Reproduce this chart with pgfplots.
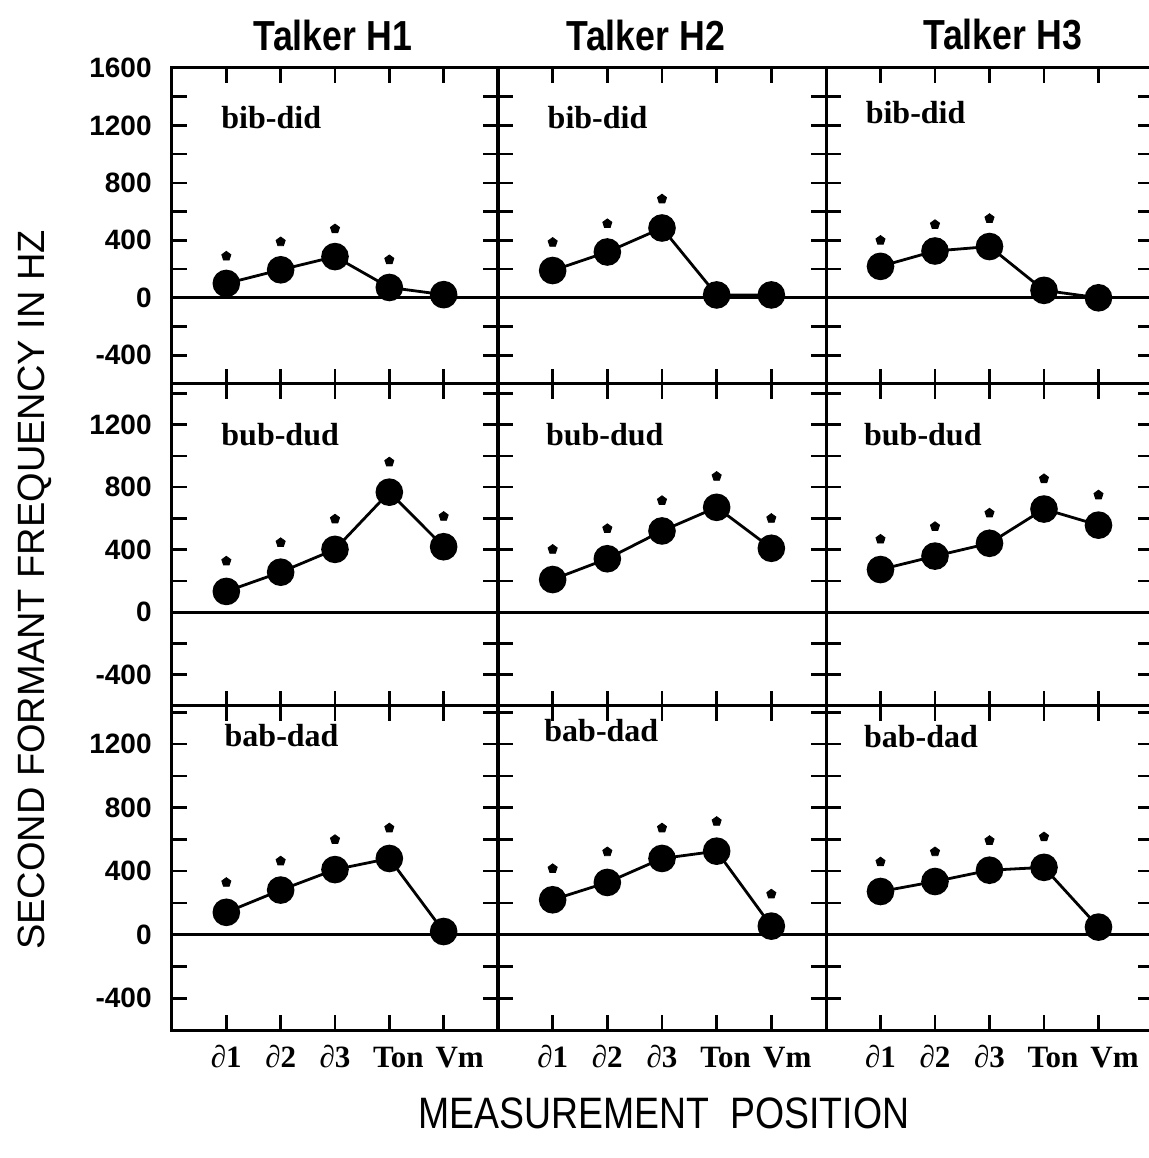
\documentclass[border=0pt]{standalone}
\usepackage{pgfplots}
\pgfplotsset{compat=1.18}
\usepackage{fontspec}
\setmainfont{Liberation Serif}
\setsansfont{Liberation Sans}
\newfontfamily\narrowsans[FakeStretch=0.85]{Liberation Sans}

\pgfplotsset{
  panel/.style={
    scale only axis, anchor=south west,
    xmin=0, xmax=6, ymin=-600,
    xtick={1,2,3,4,5}, xticklabels={},
    xtick pos=both, ytick pos=both,
    tick align=inside,
    major tick length=7.5pt, minor tick length=7.5pt,
    axis line style={line width=1.5pt},
    every tick/.style={line width=1.3pt, black},
    yticklabel style={font=\fontsize{14}{14}\selectfont\sffamily\bfseries, inner sep=0pt, xshift=-10pt},
    xticklabel style={font=\fontsize{15.5}{15.5}\selectfont\bfseries, inner sep=0pt, text height=10.5pt, text depth=0pt, yshift=-8pt},
  },
  toprow/.style={panel, ymax=1600, height=158pt,
    ytick={-400,0,400,800,1200,1600}, minor ytick={-200,200,600,1000,1400}},
  lowrow/.style={panel,
    ytick={-400,0,400,800,1200}, minor ytick={-200,200,600,1000,1400}},
  nolab/.style={yticklabels={}},
  toplab/.style={yticklabels={-400,0,400,800,1200,1600}},
  lowlab/.style={yticklabels={-400,0,400,800,1200}},
  botx/.style={xticklabels={∂1,∂2,∂3,\hspace*{9pt}Ton,\hspace*{16pt}Vm}},
  dots/.style={black, line width=1.4pt, mark=*, mark size=6.2pt},
  stars/.style={black, only marks, mark=pentagon*, mark size=2.4pt},
  zero/.style={black, line width=1.4pt, no marks},
}
\newcommand{\plab}{\fontsize{16}{16}\selectfont\bfseries}

\begin{document}
\begin{tikzpicture}
% ---------- top row ----------
\begin{axis}[toprow, toplab, at={(86pt,387pt)}, width=163pt]
\addplot[zero] coordinates {(0,0) (6,0)};
\addplot[dots] coordinates {(1,100) (2,195) (3,287) (4,72) (5,22)};
\addplot[stars] coordinates {(1,290) (2,390) (3,480) (4,265)};
\node[anchor=west, font=\plab] at (rel axis cs:0.13,0.842) {bib-did};
\end{axis}
\begin{axis}[toprow, nolab, at={(249pt,387pt)}, width=164pt]
\addplot[zero] coordinates {(0,0) (6,0)};
\addplot[dots] coordinates {(1,190) (2,319) (3,486) (4,20) (5,20)};
\addplot[stars] coordinates {(1,386) (2,516) (3,688)};
\node[anchor=west, font=\plab] at (rel axis cs:0.13,0.842) {bib-did};
\end{axis}
\begin{axis}[toprow, nolab, at={(413pt,387pt)}, width=163.5pt]
\addplot[zero] coordinates {(0,0) (6,0)};
\addplot[dots] coordinates {(1,219) (2,326) (3,357) (4,52) (5,0)};
\addplot[stars] coordinates {(1,400) (2,510) (3,552)};
\node[anchor=west, font=\plab] at (rel axis cs:0.10,0.86) {bib-did};
\end{axis}
% ---------- middle row ----------
\begin{axis}[lowrow, lowlab, ymax=1460, height=161pt, at={(86pt,226pt)}, width=163pt]
\addplot[zero] coordinates {(0,0) (6,0)};
\addplot[dots] coordinates {(1,133) (2,256) (3,402) (4,768) (5,419)};
\addplot[stars] coordinates {(1,327) (2,445) (3,596) (4,961) (5,613)};
\node[anchor=west, font=\plab] at (rel axis cs:0.13,0.842) {bub-dud};
\end{axis}
\begin{axis}[lowrow, nolab, ymax=1460, height=161pt, at={(249pt,226pt)}, width=164pt]
\addplot[zero] coordinates {(0,0) (6,0)};
\addplot[dots] coordinates {(1,209) (2,342) (3,520) (4,671) (5,409)};
\addplot[stars] coordinates {(1,402) (2,535) (3,714) (4,869) (5,600)};
\node[anchor=west, font=\plab] at (rel axis cs:0.125,0.842) {bub-dud};
\end{axis}
\begin{axis}[lowrow, nolab, ymax=1460, height=161pt, at={(413pt,226pt)}, width=163.5pt]
\addplot[zero] coordinates {(0,0) (6,0)};
\addplot[dots] coordinates {(1,273) (2,359) (3,441) (4,660) (5,557)};
\addplot[stars] coordinates {(1,467) (2,548) (3,634) (4,854) (5,750)};
\node[anchor=west, font=\plab] at (rel axis cs:0.095,0.842) {bub-dud};
\end{axis}
% ---------- bottom row ----------
\begin{axis}[lowrow, lowlab, botx, ymax=1440, height=162pt, at={(86pt,64pt)}, width=163pt]
\addplot[zero] coordinates {(0,0) (6,0)};
\addplot[dots] coordinates {(1,141) (2,281) (3,410) (4,480) (5,20)};
\addplot[stars] coordinates {(1,329) (2,464) (3,599) (4,672)};
\node[anchor=west, font=\plab] at (rel axis cs:0.14,0.91) {bab-dad};
\end{axis}
\begin{axis}[lowrow, nolab, botx, ymax=1440, height=162pt, at={(249pt,64pt)}, width=164pt]
\addplot[zero] coordinates {(0,0) (6,0)};
\addplot[dots] coordinates {(1,220) (2,329) (3,480) (4,526) (5,54)};
\addplot[stars] coordinates {(1,416) (2,522) (3,672) (4,713) (5,256)};
\node[anchor=west, font=\plab] at (rel axis cs:0.12,0.925) {bab-dad};
\end{axis}
\begin{axis}[lowrow, nolab, botx, ymax=1440, height=162pt, at={(413pt,64pt)}, width=163.5pt]
\addplot[zero] coordinates {(0,0) (6,0)};
\addplot[dots] coordinates {(1,272) (2,335) (3,406) (4,424) (5,48)};
\addplot[stars] coordinates {(1,458) (2,522) (3,593) (4,616)};
\node[anchor=west, font=\plab] at (rel axis cs:0.095,0.905) {bab-dad};
\end{axis}
% ---------- titles ----------
\node[font=\fontsize{21}{21}\selectfont\narrowsans\bfseries] at (166.5pt,561.5pt) {Talker H1};
\node[font=\fontsize{21}{21}\selectfont\narrowsans\bfseries] at (323pt,561.5pt) {Talker H2};
\node[font=\fontsize{21}{21}\selectfont\narrowsans\bfseries] at (501.5pt,561.5pt) {Talker H3};
\node[font=\fontsize{19}{19}\selectfont\sffamily, rotate=90] at (17.5pt,284pt) {SECOND\ FORMANT\ FREQUENCY\ IN\ HZ};
\node[font=\fontsize{22}{22}\selectfont\narrowsans] at (332pt,22.5pt) {MEASUREMENT\ \ POSITION};
\pgfresetboundingbox
\path[use as bounding box] (0pt,0pt) rectangle (574.5pt,579pt);
\end{tikzpicture}
\end{document}
